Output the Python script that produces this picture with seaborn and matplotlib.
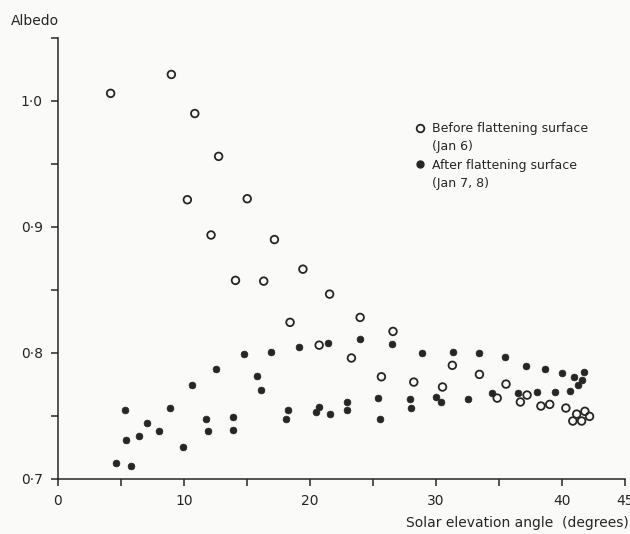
import numpy as np
import pandas as pd
import seaborn as sns
import matplotlib.pyplot as plt
from matplotlib.lines import Line2D

# Before flattening surface (Jan 6) - open circles
before_angle = [4.18, 9.0, 10.86, 12.75, 10.27, 15.02, 12.15, 17.18, 19.44, 14.09,
                16.33, 21.56, 23.98, 18.42, 20.73, 23.29, 26.59, 25.67, 28.24, 30.52,
                31.3, 33.45, 34.86, 35.56, 37.23, 36.7, 38.33, 39.03, 40.31, 41.17,
                41.82, 42.19, 40.86, 41.56]
before_albedo = [1.006, 1.021, 0.990, 0.956, 0.9216, 0.9224, 0.8936, 0.890, 0.8665, 0.8576,
                 0.857, 0.8467, 0.8282, 0.8243, 0.8062, 0.796, 0.8171, 0.7811, 0.7769, 0.773,
                 0.7902, 0.783, 0.7642, 0.7753, 0.7666, 0.7611, 0.7579, 0.7592, 0.7563, 0.7515,
                 0.7537, 0.7497, 0.746, 0.746]

# After flattening surface (Jan 7, 8) - filled dots
after_angle = [4.58, 5.82, 5.32, 5.37, 6.46, 7.10, 8.02, 8.87, 9.94, 10.65,
               11.75, 11.91, 12.52, 13.93, 13.9, 14.73, 15.83, 16.08, 16.92, 18.28,
               18.08, 19.1, 20.75, 20.47, 21.43, 21.6, 22.93, 22.93, 24.0, 25.37,
               25.52, 26.51, 27.96, 28.01, 28.92, 30.0, 30.41, 31.35, 32.54, 33.45,
               34.44, 35.5, 36.48, 37.13, 38.0, 38.63, 39.46, 40.0, 40.65, 40.96,
               41.27, 41.62, 41.74]
after_albedo = [0.7125, 0.7105, 0.7547, 0.7312, 0.7341, 0.7442, 0.7383, 0.7565, 0.7254, 0.7745,
                0.7473, 0.7383, 0.787, 0.7492, 0.7389, 0.7991, 0.7814, 0.7703, 0.8007, 0.7545,
                0.7473, 0.8044, 0.7573, 0.7529, 0.8081, 0.7513, 0.7608, 0.7545, 0.8113, 0.7642,
                0.7473, 0.8068, 0.7632, 0.7563, 0.7999, 0.765, 0.7613, 0.801, 0.7637, 0.7997,
                0.7682, 0.7967, 0.768, 0.7898, 0.7688, 0.7872, 0.7688, 0.7841, 0.77, 0.7806,
                0.7743, 0.7785, 0.7846]

x_ticks = [0, 5, 10, 15, 20, 25, 30, 35, 40, 45]
x_tick_labels = ['0', '', '10', '', '20', '', '30', '', '40', '45']
y_ticks = [0.70, 0.75, 0.80, 0.85, 0.90, 0.95, 1.00, 1.05]
y_tick_labels = ['0\u00b77', '', '0\u00b78', '', '0\u00b79', '', '1\u00b70', '']
legend_labels = ['Before flattening surface', '(Jan 6)', 'After flattening surface', '(Jan 7, 8)']

ink = '#262626'
paper = '#fafaf8'

sns.set_style('ticks')
plt.rcParams['font.family'] = ['DejaVu Sans']
plt.rcParams['axes.linewidth'] = 1.1
plt.rcParams['xtick.major.width'] = 1.1
plt.rcParams['ytick.major.width'] = 1.1

before = pd.DataFrame({'angle': before_angle, 'albedo': before_albedo})
after = pd.DataFrame({'angle': after_angle, 'albedo': after_albedo})

fig = plt.figure(figsize=(6.3, 5.34), dpi=100, facecolor=paper)
ax = fig.add_axes([0.092, 0.103, 0.9, 0.826], facecolor=paper)

sns.scatterplot(data=before, x='angle', y='albedo', marker='o', s=30,
                facecolor='none', edgecolor=ink, linewidth=1.3, ax=ax)
sns.scatterplot(data=after, x='angle', y='albedo', marker='o', s=24,
                color=ink, edgecolor=ink, linewidth=0.5, ax=ax)

ax.set_xlim(0, 45)
ax.set_ylim(0.70, 1.05)
ax.set_xticks(x_ticks)
ax.set_xticklabels(x_tick_labels)
ax.set_yticks(y_ticks)
ax.set_yticklabels(y_tick_labels)
ax.tick_params(direction='out', length=5, color=ink, labelcolor=ink, labelsize=10, pad=6)
sns.despine(ax=ax)
for side in ['left', 'bottom']:
    ax.spines[side].set_color(ink)

ax.set_xlabel('Solar elevation angle  (degrees)', fontsize=10, color=ink, ha='right', va='center')
ax.xaxis.set_label_coords(1.006, -0.1)
ax.set_ylabel('Albedo', fontsize=10, color=ink, rotation=0, ha='left', va='center')
ax.yaxis.set_label_coords(-0.083, 1.038)

handles = [
    Line2D([], [], linestyle='none', marker='o', markersize=5.5, markerfacecolor='none',
           markeredgecolor=ink, markeredgewidth=1.3),
    Line2D([], [], linestyle='none'),
    Line2D([], [], linestyle='none', marker='o', markersize=5, markerfacecolor=ink,
           markeredgecolor=ink),
    Line2D([], [], linestyle='none'),
]
leg = ax.legend(handles, legend_labels, loc='upper left', bbox_to_anchor=(0.616, 0.823),
                frameon=False, fontsize=9, handlelength=1.0, handletextpad=0.5,
                labelspacing=0.42, borderpad=0, labelcolor=ink)

fig.savefig('out.png', dpi=100, facecolor=paper)
